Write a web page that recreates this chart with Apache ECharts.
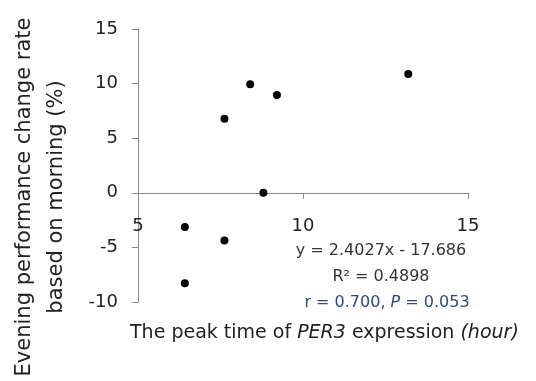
<!DOCTYPE html>
<html>
<head>
<meta charset="utf-8">
<script src="https://cdn.jsdelivr.net/npm/echarts@6/dist/echarts.min.js"></script>
<style>
  html, body { margin: 0; padding: 0; background: #fff; }
  #chart { width: 536px; height: 381px; }
</style>
</head>
<body>
<div id="chart"></div>
<script>
  // data
  const peakTime = [6.42, 6.42, 7.62, 7.62, 8.40, 8.80, 9.21, 13.19]
  const changeRate = [-3.14, -8.29, 6.79, -4.36, 9.93, 0, 8.96, 10.88]
  const xTicks = [5, 10, 15]
  const yTicks = [-10, -5, 0, 5, 10, 15]
  const fitText = 'y = 2.4027x - 17.686'
  const r2Text = 'R² = 0.4898'
  const corrText = ['r = 0.700, ', 'P', ' = 0.053']

  const font = '"DejaVu Sans", sans-serif'
  const axisColor = '#888'

  const gridTop = 29
  const gridBottom = 79
  const plotHeight = 381 - gridTop - gridBottom
  // the x axis crosses at y = 0, move the whole axis (line, ticks, labels) up there
  const yMin = yTicks[0], yMax = yTicks[yTicks.length - 1]
  const zeroOffset = -plotHeight * (0 - yMin) / (yMax - yMin)

  let chart = echarts.init(document.getElementById('chart'), null, { renderer: 'canvas' })

  chart.setOption({
    animation: false,
    grid: {
      left: 138,
      top: gridTop,
      right: 68,
      bottom: gridBottom
    },
    xAxis: {
      type: 'value',
      min: xTicks[0],
      max: xTicks[xTicks.length - 1],
      interval: xTicks[1] - xTicks[0],
      offset: zeroOffset,
      axisLine: { show: true, onZero: false, lineStyle: { color: axisColor, width: 1 } },
      axisTick: { show: true, length: 6, lineStyle: { color: axisColor } },
      splitLine: { show: false },
      axisLabel: {
        margin: 25,
        color: '#222',
        fontSize: 18,
        fontFamily: font
      }
    },
    yAxis: {
      type: 'value',
      min: yMin,
      max: yMax,
      interval: yTicks[1] - yTicks[0],
      axisLine: { show: true, lineStyle: { color: axisColor, width: 1 } },
      axisTick: { show: true, length: 6, lineStyle: { color: axisColor } },
      splitLine: { show: false },
      axisLabel: {
        margin: 20,
        color: '#222',
        fontSize: 18,
        fontFamily: font
      }
    },
    series: [
      {
        type: 'scatter',
        symbol: 'circle',
        symbolSize: 8,
        itemStyle: { color: '#000', opacity: 1 },
        data: peakTime.map((x, i) => [x, changeRate[i]])
      }
    ],
    graphic: [
      // y axis title
      {
        type: 'text',
        x: 41,
        y: 197,
        rotation: Math.PI / 2,
        style: {
          text: 'Evening performance change rate\nbased on morning (%)',
          font: '21px ' + font,
          fill: '#222',
          align: 'center',
          verticalAlign: 'middle',
          lineHeight: 32
        }
      },
      // x axis title
      {
        type: 'text',
        x: 130,
        y: 333,
        style: {
          text: '{n|The peak time of }{i|PER3}{n| expression }{i|(hour)}',
          verticalAlign: 'middle',
          rich: {
            n: { font: '19px ' + font, fill: '#222' },
            i: { font: 'italic 19px ' + font, fill: '#222' }
          }
        }
      },
      // trendline equation
      {
        type: 'text',
        x: 381,
        y: 251,
        style: {
          text: fitText,
          font: '16px ' + font,
          fill: '#333',
          align: 'center',
          verticalAlign: 'middle'
        }
      },
      {
        type: 'text',
        x: 381,
        y: 277,
        style: {
          text: r2Text,
          font: '16px ' + font,
          fill: '#333',
          align: 'center',
          verticalAlign: 'middle'
        }
      },
      {
        type: 'text',
        x: 387,
        y: 303,
        style: {
          text: '{n|' + corrText[0] + '}{i|' + corrText[1] + '}{n|' + corrText[2] + '}',
          align: 'center',
          verticalAlign: 'middle',
          rich: {
            n: { font: '16px ' + font, fill: '#2E4A7E' },
            i: { font: 'italic 16px ' + font, fill: '#2E4A7E' }
          }
        }
      }
    ]
  })
</script>
</body>
</html>
